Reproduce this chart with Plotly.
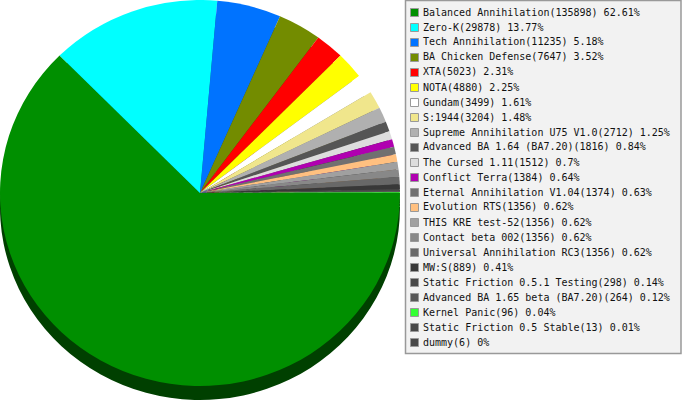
import plotly.graph_objects as go

names = ["Balanced Annihilation", "Zero-K", "Tech Annihilation", "BA Chicken Defense", "XTA", "NOTA",
         "Gundam", "S:1944", "Supreme Annihilation U75 V1.0", "Advanced BA 1.64 (BA7.20)", "The Cursed 1.11",
         "Conflict Terra", "Eternal Annihilation V1.04", "Evolution RTS", "THIS KRE test-52", "Contact beta 002",
         "Universal Annihilation RC3", "MW:S", "Static Friction 0.5.1 Testing", "Advanced BA 1.65 beta (BA7.20)",
         "Kernel Panic", "Static Friction 0.5 Stable", "dummy"]
values = [135898, 29878, 11235, 7647, 5023, 4880, 3499, 3204, 2712, 1816, 1512, 1384, 1374, 1356, 1356, 1356,
          1356, 889, 298, 264, 96, 13, 6]
percents = ["62.61", "13.77", "5.18", "3.52", "2.31", "2.25", "1.61", "1.48", "1.25", "0.84", "0.7", "0.64",
            "0.63", "0.62", "0.62", "0.62", "0.62", "0.41", "0.14", "0.12", "0.04", "0.01", "0"]
colors = ["#008f00", "#00ffff", "#0073ff", "#738c00", "#ff0000", "#ffff00", "#ffffff", "#f0e68c", "#b0b0b0",
          "#555555", "#dddddd", "#b000b0", "#707070", "#ffc080", "#a0a0a0", "#888888", "#686868", "#383838",
          "#484848", "#585858", "#33ff33", "#484848", "#484848"]
shadow_colors = ["#004000", "#008080", "#003880", "#3c4600", "#800000", "#808000", "#808080", "#787346", "#585858",
                 "#2a2a2a", "#6e6e6e", "#580058", "#383838", "#806040", "#505050", "#444444", "#343434", "#1c1c1c",
                 "#242424", "#2c2c2c", "#1a801a", "#242424", "#242424"]

W, H = 683, 400
PIE_W = 400
ROW0, ROW_STEP = 12, 15

def pie(cols):
    return go.Pie(labels=names, values=values, sort=False, direction="clockwise", rotation=90,
                  marker=dict(colors=cols, line=dict(width=0)), textinfo="none", hoverinfo="label+value+percent",
                  domain=dict(x=[0, PIE_W / W], y=[0, 1]), showlegend=False)

fig = go.Figure([pie(shadow_colors), pie(colors)])

shapes = [dict(type="rect", xref="paper", yref="paper", x0=405.5 / W, x1=681 / W, y0=1 - 353.5 / H, y1=1 - 0.5 / H,
               fillcolor="#f2f2f2", line=dict(color="#999999", width=1.5), layer="below")]
annotations = []
for i, (n, v, p, c) in enumerate(zip(names, values, percents, colors)):
    y = ROW0 + i * ROW_STEP
    shapes.append(dict(type="rect", xref="paper", yref="paper", x0=410.5 / W, x1=418.5 / W,
                       y0=1 - (y + 4.5) / H, y1=1 - (y - 3.5) / H, fillcolor=c,
                       line=dict(color="#999999", width=1)))
    annotations.append(dict(xref="paper", yref="paper", x=421.5 / W, y=1 - y / H, xanchor="left", yanchor="middle",
                            text=f"{n}({v}) {p}%", showarrow=False, borderpad=0,
                            font=dict(family="DejaVu Sans Mono", size=10, color="#111111")))

fig.update_layout(width=W, height=H, margin=dict(l=0, r=0, t=0, b=0), paper_bgcolor="white",
                  shapes=shapes, annotations=annotations)

# The reference pie is a squashed 3D-style ellipse (400 wide, 386 tall) with a 14 px drop edge.
squash = """
document.documentElement.style.margin = '0';
document.body.style.margin = '0';
document.body.style.overflow = 'hidden';
var s = document.querySelector('.pielayer');
s.setAttribute('transform', 'scale(1,0.965)');
var t = s.querySelectorAll('.trace');
t[0].setAttribute('transform', 'translate(0,14.5)');
"""
fig.write_html("out.html", post_script=squash, config=dict(displayModeBar=False))
